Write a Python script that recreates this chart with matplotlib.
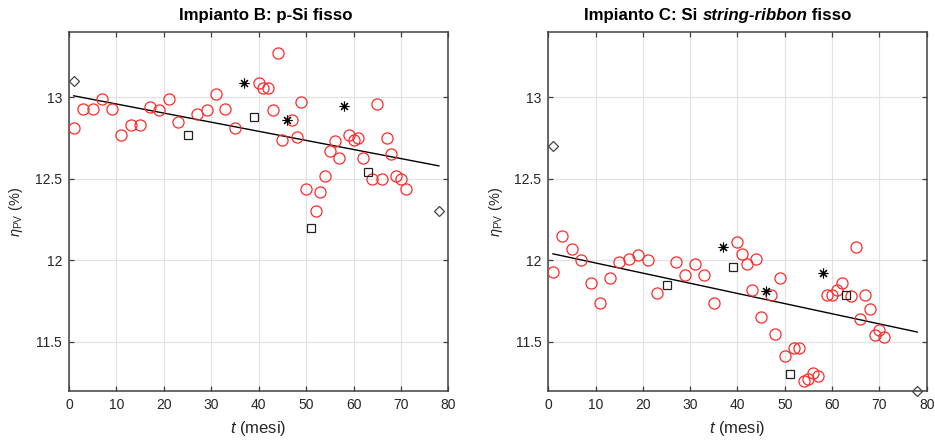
import numpy as np
import matplotlib
matplotlib.use("Agg")
import matplotlib.pyplot as plt
from matplotlib.offsetbox import TextArea, HPacker, AnchoredOffsetbox

plt.rcParams["font.family"] = ["Liberation Sans", "DejaVu Sans"]
plt.rcParams["mathtext.fontset"] = "custom"
plt.rcParams["mathtext.rm"] = "Liberation Sans"
plt.rcParams["mathtext.it"] = "Liberation Sans:italic"

# ---- Impianto B: p-Si fisso ----
b_t = [1, 3, 5, 7, 9, 11, 13, 15, 17, 19, 21, 23, 27, 29, 31, 33, 35,
       40, 41, 42, 43, 44, 45, 47, 48, 49, 50, 52, 53, 54, 55, 56, 57,
       59, 60, 61, 62, 64, 65, 66, 67, 68, 69, 70, 71]
b_eta = [12.81, 12.93, 12.93, 12.99, 12.93, 12.77, 12.83, 12.83, 12.94, 12.92,
         12.99, 12.85, 12.90, 12.92, 13.02, 12.93, 12.81,
         13.09, 13.06, 13.06, 12.92, 13.27, 12.74, 12.86, 12.76, 12.97, 12.44,
         12.30, 12.42, 12.52, 12.67, 12.73, 12.63,
         12.77, 12.74, 12.75, 12.63, 12.50, 12.96, 12.50, 12.75, 12.65, 12.52,
         12.50, 12.44]
b_sq_t = [25, 39, 51, 63]
b_sq_eta = [12.77, 12.88, 12.20, 12.54]
b_star_t = [37, 46, 58]
b_star_eta = [13.09, 12.86, 12.95]
b_dia_t = [1, 78]
b_dia_eta = [13.10, 12.30]
b_fit_t = [1, 78]
b_fit_eta = [13.01, 12.58]

# ---- Impianto C: Si string-ribbon fisso ----
c_t = [1, 3, 5, 7, 9, 11, 13, 15, 17, 19, 21, 23, 27, 29, 31, 33, 35,
       40, 41, 42, 43, 44, 45, 47, 48, 49, 50, 52, 53, 54, 55, 56, 57,
       59, 60, 61, 62, 64, 65, 66, 67, 68, 69, 70, 71]
c_eta = [11.93, 12.15, 12.07, 12.00, 11.86, 11.74, 11.89, 11.99, 12.01, 12.03,
         12.00, 11.80, 11.99, 11.91, 11.98, 11.91, 11.74,
         12.11, 12.04, 11.98, 11.82, 12.01, 11.65, 11.79, 11.55, 11.89, 11.41,
         11.46, 11.46, 11.26, 11.27, 11.31, 11.29,
         11.79, 11.79, 11.82, 11.86, 11.78, 12.08, 11.64, 11.79, 11.70, 11.54,
         11.57, 11.53]
c_sq_t = [25, 39, 51, 63]
c_sq_eta = [11.85, 11.96, 11.30, 11.79]
c_star_t = [37, 46, 58]
c_star_eta = [12.08, 11.81, 11.92]
c_dia_t = [1, 78]
c_dia_eta = [12.70, 11.20]
c_fit_t = [1, 78]
c_fit_eta = [12.04, 11.56]

FRAME = "#404040"
TXT = "#262626"


def draw_panel(ax, t, eta, sq_t, sq_eta, st_t, st_eta, di_t, di_eta, fit_t, fit_eta):
    ax.plot(fit_t, fit_eta, color="black", lw=1.0, zorder=2)
    ax.plot(t, eta, ls="none", marker="o", ms=8, mfc="none", mec="#ff2a2a",
            mew=0.9, zorder=3)
    ax.plot(sq_t, sq_eta, ls="none", marker="s", ms=5.5, mfc="none",
            mec="#222222", mew=0.9, zorder=4)
    ax.plot(st_t, st_eta, ls="none", marker=(8, 2, 0), ms=7, color="black",
            mew=0.8, zorder=4)
    ax.plot(di_t, di_eta, ls="none", marker="D", ms=5.5, mfc="none",
            mec="#444444", mew=0.9, zorder=4, clip_on=False)
    ax.set_xlim(0, 80)
    ax.set_ylim(11.2, 13.4)
    ax.set_xticks(np.arange(0, 81, 10))
    ax.set_yticks([11.5, 12, 12.5, 13])
    ax.set_yticklabels(["11.5", "12", "12.5", "13"])
    ax.grid(True, color="#e3e3e3", lw=0.9)
    ax.set_axisbelow(True)
    ax.tick_params(direction="in", top=True, right=True, length=3.5,
                   width=0.9, colors=FRAME, labelcolor=TXT, labelsize=10,
                   pad=5)
    for sp in ax.spines.values():
        sp.set_color(FRAME)
        sp.set_linewidth(1.1)
    ax.set_xlabel(r"$t$ (mesi)", fontsize=12, color=TXT, labelpad=5)
    ax.set_ylabel(r"$\eta_{\rm PV}$ (%)", fontsize=10.5, color=TXT, labelpad=7)


def add_title(ax, pieces, xfrac):
    # pieces: list of (text, italic)
    kids = []
    for txt, ital in pieces:
        tp = dict(fontsize=12.2, fontweight="bold", color="black",
                  fontstyle="italic" if ital else "normal")
        kids.append(TextArea(txt, textprops=tp))
    box = HPacker(children=kids, align="baseline", pad=0, sep=0)
    yoff = 1.0 + 9.5 / (0.8127 * 441)
    anch = AnchoredOffsetbox(loc="lower center", child=box, pad=0,
                             borderpad=0, frameon=False,
                             bbox_to_anchor=(xfrac, yoff),
                             bbox_transform=ax.transAxes)
    ax.add_artist(anch)


fig = plt.figure(figsize=(9.35, 4.41), dpi=100)
ax1 = fig.add_axes([0.0738, 0.1141, 0.4057, 0.8127])
ax2 = fig.add_axes([0.5864, 0.1141, 0.4047, 0.8127])

draw_panel(ax1, b_t, b_eta, b_sq_t, b_sq_eta, b_star_t, b_star_eta,
           b_dia_t, b_dia_eta, b_fit_t, b_fit_eta)
draw_panel(ax2, c_t, c_eta, c_sq_t, c_sq_eta, c_star_t, c_star_eta,
           c_dia_t, c_dia_eta, c_fit_t, c_fit_eta)

add_title(ax1, [("Impianto B: p-Si fisso", False)], 0.518)
add_title(ax2, [("Impianto C: Si ", False), ("string-ribbon", True),
                (" fisso", False)], 0.4485)

fig.savefig("out.png", dpi=100)
